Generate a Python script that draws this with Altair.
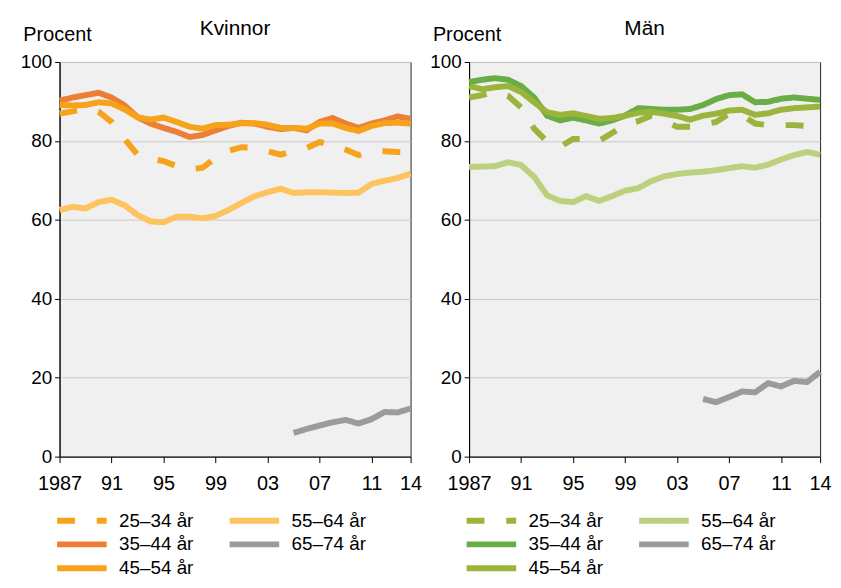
import altair as alt
import pandas as pd

years = list(range(1987, 2015))
age_groups = ["25–34 år", "35–44 år", "45–54 år", "55–64 år", "65–74 år"]

tick_years = [1987, 1991, 1995, 1999, 2003, 2007, 2011, 2014]
tick_labels = ["1987", "91", "95", "99", "03", "07", "11", "14"]
y_ticks = [0, 20, 40, 60, 80, 100]

# Kvinnor (women)
w_25_34 = [86.9, 87.5, 88.2, 87.4, 84.8, 80.5, 76.5, 75.5, 74.9, 73.6, 72.8, 73.2, 75.7, 77.5,
           78.4, 78.3, 77.4, 76.5, 77.4, 78.2, 79.7, 79.0, 77.8, 76.4, 77.4, 77.4, 77.2, 77.0]
w_35_44 = [90.2, 91.0, 91.6, 92.2, 91.0, 89.0, 86.0, 84.4, 83.3, 82.3, 81.0, 81.5, 82.7, 83.8,
           84.6, 84.4, 83.6, 83.0, 83.3, 82.7, 84.8, 85.8, 84.4, 83.3, 84.4, 85.2, 86.2, 85.6]
w_45_54 = [89.1, 89.0, 89.1, 89.8, 89.5, 88.0, 86.0, 85.4, 85.9, 84.8, 83.6, 83.1, 84.0, 84.1,
           84.5, 84.5, 84.1, 83.3, 83.3, 83.1, 84.4, 84.4, 83.3, 82.5, 83.8, 84.5, 84.6, 84.4]
w_55_64 = [62.5, 63.3, 62.9, 64.5, 65.1, 63.7, 61.2, 59.6, 59.4, 60.8, 60.8, 60.4, 61.0, 62.5,
           64.3, 66.0, 67.0, 67.9, 66.8, 67.0, 67.0, 66.9, 66.8, 66.9, 69.1, 69.9, 70.6, 71.7]
w_65_74 = [None] * 18 + [6.0, 7.0, 7.9, 8.7, 9.3, 8.4, 9.5, 11.3, 11.2, 12.2]

# Män (men)
m_25_34 = [91.0, 91.6, 92.5, 91.4, 88.5, 83.1, 79.8, 78.5, 80.5, 80.5, 80.0, 82.0, 84.1, 85.0,
           86.4, 85.0, 83.6, 83.6, 84.2, 84.8, 86.9, 86.5, 84.4, 84.0, 84.0, 84.0, 83.8, 84.0]
m_35_44 = [94.9, 95.5, 95.9, 95.5, 93.9, 91.0, 86.4, 85.2, 85.9, 85.2, 84.4, 85.2, 86.4, 88.3,
           88.1, 87.9, 87.9, 88.1, 89.1, 90.6, 91.6, 91.8, 89.8, 89.9, 90.7, 91.0, 90.7, 90.4]
m_45_54 = [93.9, 93.1, 93.6, 93.9, 92.4, 89.8, 87.3, 86.6, 87.0, 86.3, 85.6, 85.8, 86.4, 87.1,
           87.4, 86.9, 86.3, 85.4, 86.4, 86.9, 87.7, 87.9, 86.6, 87.0, 87.9, 88.3, 88.5, 88.7]
m_55_64 = [73.4, 73.5, 73.6, 74.6, 73.9, 70.9, 66.2, 64.8, 64.5, 66.0, 64.8, 66.0, 67.4, 68.0,
           69.8, 71.0, 71.6, 72.0, 72.2, 72.6, 73.1, 73.6, 73.2, 74.0, 75.3, 76.4, 77.2, 76.5]
m_65_74 = [None] * 18 + [14.6, 13.8, 15.1, 16.5, 16.3, 18.6, 17.8, 19.2, 18.9, 21.5]

women_colors = ["#F7A21B", "#EC7F35", "#F7A21B", "#FDC35E", "#9B9B9B"]
men_colors = ["#9BB43C", "#69AD46", "#9BB43C", "#BCD07E", "#9B9B9B"]
dashes = [[18, 22], [1, 0], [1, 0], [1, 0], [1, 0]]


def build_df(series):
    rows = []
    for g, vals in zip(age_groups, series):
        for yr, v in zip(years, vals):
            if v is not None:
                rows.append({"year": yr, "value": v, "group": g})
    return pd.DataFrame(rows)


label_expr = "".join(f"datum.value == {y} ? '{l}' : " for y, l in zip(tick_years, tick_labels)) + "''"


def panel(df, title, colors):
    legend = alt.Legend(
        title=None, orient="none", legendX=13, legendY=453, columns=2,
        symbolType="M-5,0H5", symbolSize=100, symbolStrokeWidth=6,
        labelFontSize=19, labelOffset=28, columnPadding=23, rowPadding=-1,
        labelColor="black", labelFont="Liberation Sans",
    )
    return alt.Chart(df).mark_line(strokeWidth=6, strokeCap="butt").encode(
        x=alt.X("year:Q",
                scale=alt.Scale(domain=[1987, 2014], nice=False, zero=False),
                axis=alt.Axis(values=tick_years, labelExpr=label_expr, title=None, grid=False,
                              tickSize=6, labelFontSize=20, labelPadding=11, labelFlush=False)),
        y=alt.Y("value:Q",
                scale=alt.Scale(domain=[0, 100], nice=False),
                axis=alt.Axis(values=y_ticks, title="Procent", titleAngle=0, titleAlign="left",
                              titleBaseline="alphabetic", titleX=-37, titleY=-22,
                              titleFontSize=20, titleFontWeight="normal",
                              grid=True, tickSize=5, labelFontSize=19, labelPadding=3)),
        color=alt.Color("group:N",
                        scale=alt.Scale(domain=age_groups, range=colors),
                        legend=legend),
        strokeDash=alt.StrokeDash("group:N",
                                  scale=alt.Scale(domain=age_groups, range=dashes),
                                  legend=legend),
    ).properties(
        width=354, height=398,
        title=alt.TitleParams(title, fontSize=21, fontWeight="normal", anchor="middle",
                              offset=-15, font="Liberation Sans", color="black"),
    )


left = panel(build_df([w_25_34, w_35_44, w_45_54, w_55_64, w_65_74]), "Kvinnor", women_colors)
right = panel(build_df([m_25_34, m_35_44, m_45_54, m_55_64, m_65_74]), "Män", men_colors)

chart = alt.hconcat(left, right, spacing=5).resolve_scale(
    color="independent", strokeDash="independent"
).properties(
    padding={"left": 11, "top": 7, "right": 0, "bottom": 0}
).configure(
    font="Liberation Sans"
).configure_view(
    fill="#F0F0F0", stroke="#222222", strokeWidth=1
).configure_axis(
    domainColor="black", tickColor="black", labelColor="black", titleColor="black",
    gridColor="#C8C8C8", gridWidth=1, labelFont="Liberation Sans", titleFont="Liberation Sans"
)

chart.save("out.html", embed_options={"renderer": "svg", "actions": False})
